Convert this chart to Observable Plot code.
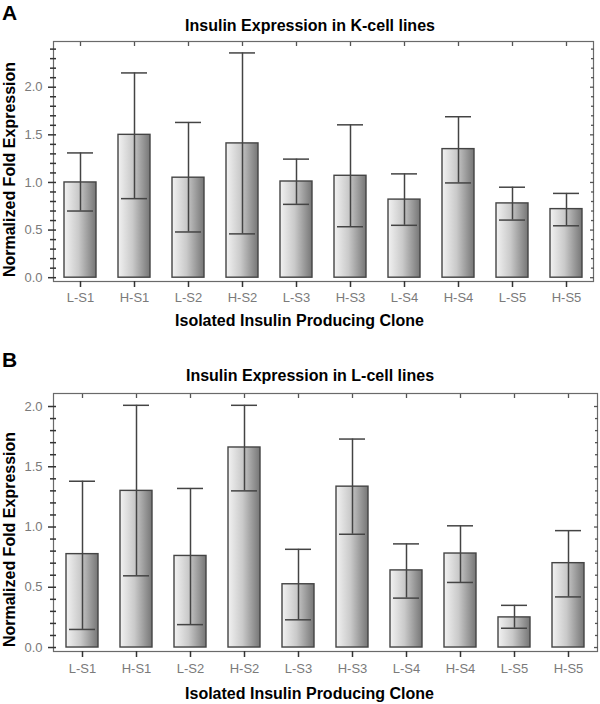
<!DOCTYPE html>
<html><head><meta charset="utf-8">
<script src="https://cdn.jsdelivr.net/npm/d3@7"></script>
<script src="https://cdn.jsdelivr.net/npm/@observablehq/plot@0.6"></script>
<style>
body{margin:0;background:#fff;width:600px;height:704px;position:relative;overflow:hidden;font-family:"Liberation Sans",Arial,sans-serif}
.abs{position:absolute}
.panel{font-weight:bold;font-size:21px;line-height:21px;left:2px;color:#000}
.title{font-weight:bold;font-size:16px;line-height:16px;left:0;width:620px;text-align:center;color:#000;white-space:nowrap}
</style></head><body>
<div class="abs panel" style="top:2px">A</div>
<div class="abs title" style="top:18px">Insulin Expression in K-cell lines</div>
<div class="abs" id="chartA" style="top:36px;left:0"></div>
<div class="abs panel" style="top:349px">B</div>
<div class="abs title" style="top:368px">Insulin Expression in L-cell lines</div>
<div class="abs" id="chartB" style="top:388px;left:0"></div>
<script>
const clones = ["L-S1","H-S1","L-S2","H-S2","L-S3","H-S3","L-S4","H-S4","L-S5","H-S5"];

// Panel A: K-cell lines
const kMean = [1.00, 1.50, 1.05, 1.41, 1.01, 1.07, 0.82, 1.35, 0.78, 0.72];
const kLow  = [0.70, 0.83, 0.48, 0.46, 0.77, 0.535, 0.55, 0.995, 0.605, 0.545];
const kHigh = [1.31, 2.15, 1.63, 2.36, 1.245, 1.605, 1.09, 1.69, 0.95, 0.885];

// Panel B: L-cell lines
const lMean = [0.775, 1.30, 0.76, 1.66, 0.525, 1.335, 0.64, 0.78, 0.25, 0.70];
const lLow  = [0.15, 0.595, 0.19, 1.30, 0.23, 0.94, 0.41, 0.54, 0.16, 0.42];
const lHigh = [1.38, 2.01, 1.32, 2.01, 0.815, 1.73, 0.86, 1.01, 0.35, 0.97];

const yMajorA = [0, 0.5, 1.0, 1.5, 2.0];
const yMinorA = [0.1,0.2,0.3,0.4,0.6,0.7,0.8,0.9,1.1,1.2,1.3,1.4,1.6,1.7,1.8,1.9,2.1,2.2,2.3,2.4];
const yMajorB = [0, 0.5, 1.0, 1.5, 2.0];
const yMinorB = [0.1,0.2,0.3,0.4,0.6,0.7,0.8,0.9,1.1,1.2,1.3,1.4,1.6,1.7,1.8,1.9];

const yLabel = "Normalized Fold Expression";
const xLabel = "Isolated Insulin Producing Clone";

const FONT = '"Liberation Sans", Arial, sans-serif';
const AX = "#333";
const blank = () => "";

function makeChart(o) {
  const rows = clones.map((c, i) => ({clone: c, mean: o.mean[i], low: o.low[i], high: o.high[i]}));
  const mt = 5, ml = 53;
  const svg = Plot.plot({
    width: 600, height: o.height,
    marginTop: mt, marginLeft: ml, marginRight: o.mr, marginBottom: o.mb,
    style: {fontFamily: FONT, background: "transparent", overflow: "visible"},
    x: {type: "band", domain: clones, paddingInner: 0.41, paddingOuter: 0.205, axis: null},
    y: {domain: o.yDomain, axis: null},
    marks: [
      Plot.barY(rows, {x: "clone", y: "mean", fill: `url(#${o.gid})`, stroke: "#444", strokeWidth: 1.4}),
      Plot.ruleX(rows, {x: "clone", y1: "low", y2: "high", stroke: "#444", strokeWidth: 1.5}),
      Plot.tickY(rows, {x: "clone", y: "high", insetLeft: 3, insetRight: 3, stroke: "#444", strokeWidth: 1.5}),
      Plot.tickY(rows, {x: "clone", y: "low", insetLeft: 3, insetRight: 3, stroke: "#444", strokeWidth: 1.5}),
      Plot.frame({stroke: "#6a6a6a", strokeWidth: 1.2}),
      // left axis ticks crossing the axis line
      Plot.axisY(o.major, {anchor: "left", tickSize: 8, dx: 3, tickFormat: blank, label: null, stroke: AX, strokeWidth: 1.5}),
      Plot.axisY(o.minor, {anchor: "left", tickSize: 6, dx: 3, tickFormat: blank, label: null, stroke: AX, strokeWidth: 1.5}),
      // right axis inward ticks
      Plot.axisY(o.major, {anchor: "right", tickSize: 4, dx: -4, tickFormat: blank, label: null, stroke: "#555", strokeWidth: 1.3}),
      Plot.axisY(o.minor, {anchor: "right", tickSize: 3, dx: -3, tickFormat: blank, label: null, stroke: "#555", strokeWidth: 1.3}),
      // category ticks top (inward) and bottom (outward)
      Plot.axisX(clones, {anchor: "top", tickSize: 4, dy: 4, tickFormat: blank, label: null, stroke: "#555", strokeWidth: 1.3}),
      Plot.axisX(clones, {anchor: "bottom", tickSize: 6, tickFormat: blank, label: null, stroke: AX, strokeWidth: 1.5}),
      // y tick labels
      Plot.text(o.major, {y: d => d, frameAnchor: "left", dx: -11, textAnchor: "end", text: d => d.toFixed(1), fill: "#7a7a7a", fontSize: 13}),
      // x tick labels
      Plot.text(clones, {x: d => d, frameAnchor: "bottom", dy: o.xtDy, lineAnchor: "middle", text: d => d, fill: "#7a7a7a", fontSize: 13}),
      // axis titles
      Plot.text([xLabel], {frameAnchor: "bottom", dx: o.xlDx, dy: o.xlDy, lineAnchor: "middle", text: d => d, fontWeight: "bold", fontSize: 16, fill: "#000"}),
      Plot.text([yLabel], {frameAnchor: "left", dx: -44, dy: o.ylDy, rotate: -90, textAnchor: "middle", lineAnchor: "middle", text: d => d, fontWeight: "bold", fontSize: 16, fill: "#000"})
    ]
  });
  const defs = d3.select(svg).insert("defs", ":first-child");
  const g = defs.append("linearGradient").attr("id", o.gid).attr("x1", "0").attr("x2", "1").attr("y1", "0").attr("y2", "0");
  g.append("stop").attr("offset", "0").attr("stop-color", "#f2f2f2");
  g.append("stop").attr("offset", "0.45").attr("stop-color", "#cacaca");
  g.append("stop").attr("offset", "1").attr("stop-color", "#767676");
  return svg;
}

document.getElementById("chartA").appendChild(makeChart({
  mean: kMean, low: kLow, high: kHigh, yDomain: [-0.04, 2.48], major: yMajorA, minor: yMinorA,
  height: 314, mb: 69, mr: 7, gid: "gradA", xtDy: 16, xlDy: 39, xlDx: -24, ylDy: 8
}));
document.getElementById("chartB").appendChild(makeChart({
  mean: lMean, low: lLow, high: lHigh, yDomain: [-0.033, 2.108], major: yMajorB, minor: yMinorB,
  height: 316, mb: 53, mr: 3, gid: "gradB", xtDy: 17, xlDy: 42, xlDx: -16, ylDy: 17
}));
</script>
</body></html>
